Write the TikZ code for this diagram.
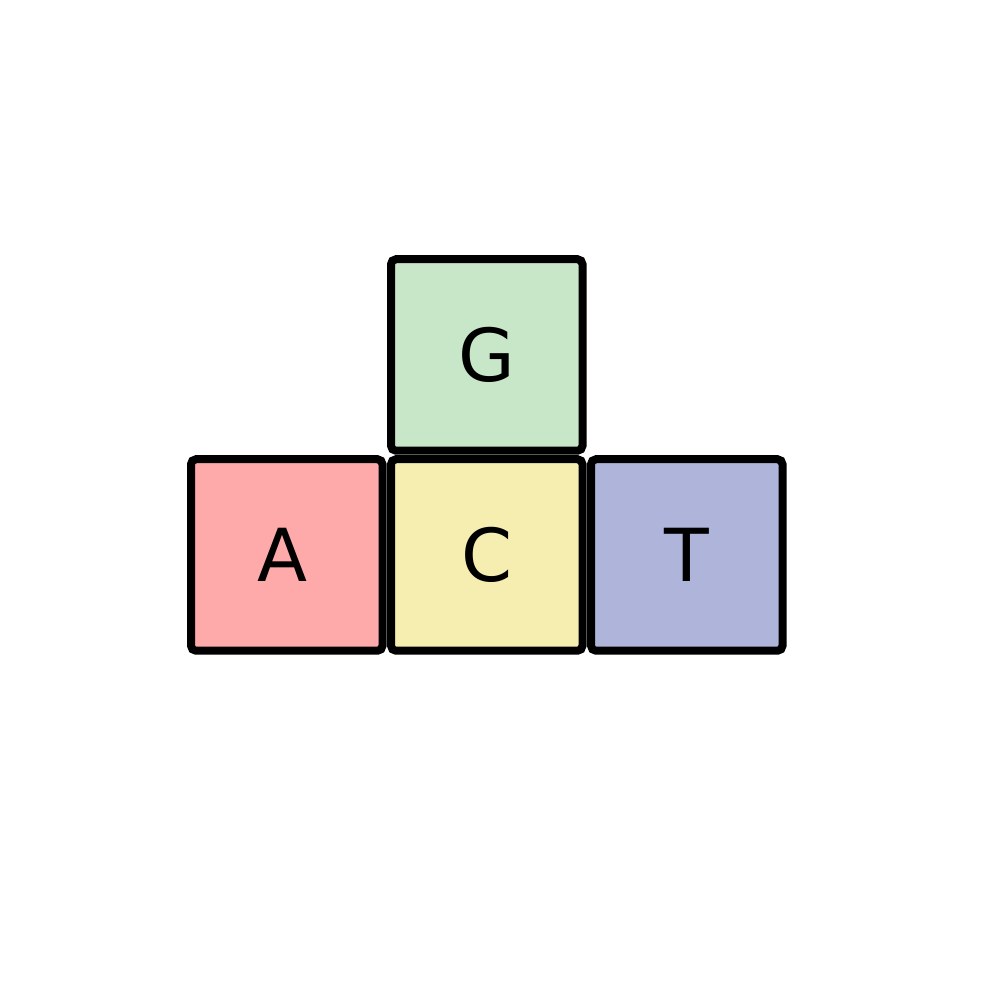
\documentclass[tikz,border=0pt]{standalone}
\usepackage{fontspec}
\setmainfont{DejaVu Sans}
\usepackage{tikz}
\usetikzlibrary{positioning}
\definecolor{baseA}{RGB}{255,170,170}
\definecolor{baseC}{RGB}{245,238,176}
\definecolor{baseG}{RGB}{200,230,200}
\definecolor{baseT}{RGB}{175,181,218}
\begin{document}
\begin{tikzpicture}
\tikzstyle{every node}+=[outer sep=0pt]
\tikzstyle{base}=[draw=black, line width=0.08cm, rounded corners=0.05cm,
  minimum size=1.915cm, inner sep=0pt, font=\fontsize{20.8}{25}\selectfont]
\useasboundingbox (0,0) rectangle (10,10);
\node [base, fill=baseA] (A) at (2.8675,4.45) {\kern-0.08cm A};
\node [base, fill=baseC, right=0.085cm of A] (C) {C};
\node [base, fill=baseT, right=0.085cm of C] (T) {T};
\node [base, fill=baseG, above=0.085cm of C] (G) {G};
\end{tikzpicture}
\end{document}
